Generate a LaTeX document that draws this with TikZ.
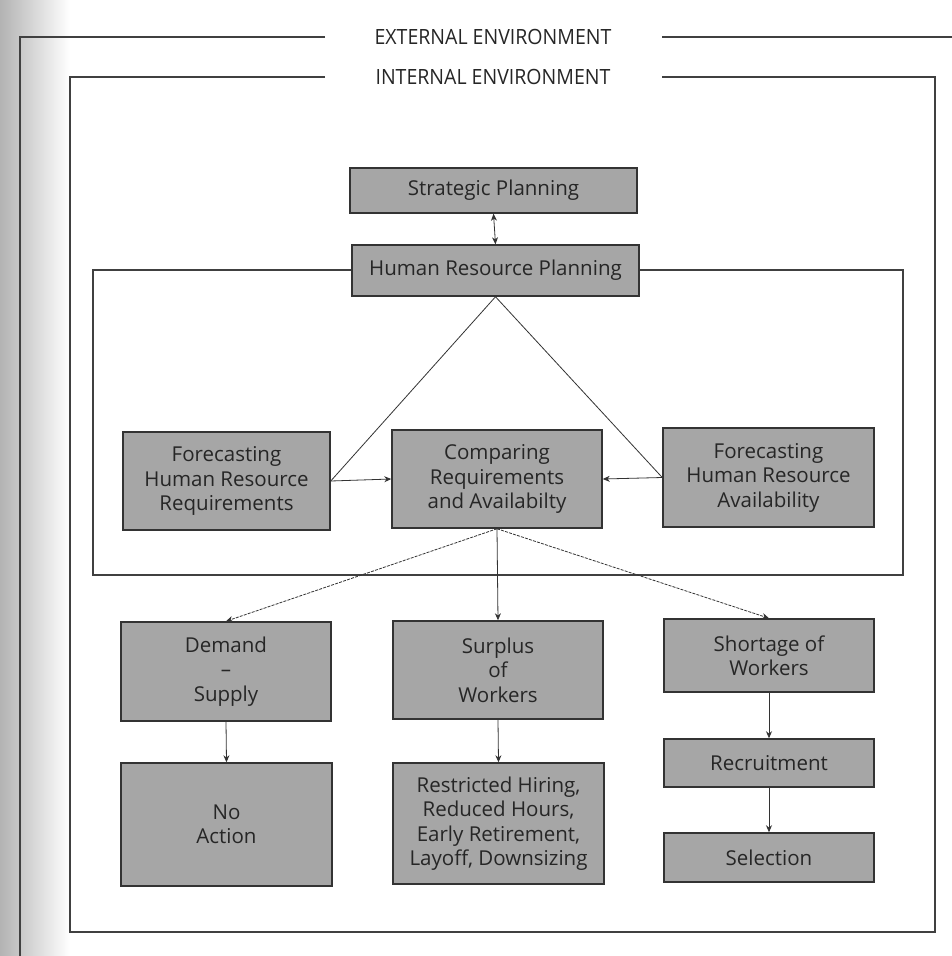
\documentclass[tikz,border=0pt]{standalone}
\usepackage{fontspec}
\setmainfont{Open Sans}
\newfontfamily\hdrfont[FakeStretch=0.93]{Open Sans}
\usetikzlibrary{arrows.meta}
\begin{document}
\begin{tikzpicture}[x=1pt,y=-1pt,
  box/.style={draw=black!80,line width=1.5pt,fill=black!35,align=center,inner sep=0pt,
     font=\fontsize{20.5}{24.5}\selectfont,text=black!85},
  frame/.style={line width=1.8pt,draw=black!75},
  conn/.style={line width=0.8pt,draw=black!80},
  arr/.style={conn,-{Stealth[length=7pt,width=6pt]}},
  darr/.style={conn,{Stealth[length=7pt,width=6pt]}-{Stealth[length=7pt,width=6pt]}},
  dasharr/.style={conn,dash pattern=on 3pt off 1.2pt,-{Stealth[length=7pt,width=6pt]}},
  hdr/.style={font=\hdrfont\fontsize{21}{24}\selectfont,text=black!85,inner sep=0pt}]
\useasboundingbox (0,0) rectangle (952,956);
\fill[white] (0,0) rectangle (952,956);
\shade[left color=black!30,right color=white] (0,0) rectangle (70,956);
% environments
\node[hdr] (ext) at (493,37) {EXTERNAL ENVIRONMENT};
\node[hdr] (int) at (493,77) {INTERNAL ENVIRONMENT};
\draw[frame] (325,37) -- (20,37) -- (20,956);
\draw[frame] (662,37) -- (952,37);
\draw[frame] (325,77) -- (70,77) -- (70,932) -- (935,932) -- (935,77) -- (662,77);
% HRP frame
\draw[frame] (93,270) rectangle (903,575);
% nodes
\node[box,minimum width=287,minimum height=45] (sp) at (493.5,190.5) {Strategic Planning};
\node[box,minimum width=287,minimum height=51] (hrp) at (495.5,270.5) {Human Resource Planning};
\node[box,minimum width=207,minimum height=98] (fhrr) at (226.5,481) {Forecasting\\Human Resource\\Requirements};
\node[box,minimum width=210,minimum height=98] (cmp) at (497,479) {Comparing\\Requirements\\and Availabilty};
\node[box,minimum width=211,minimum height=99] (fhra) at (768.5,477.5) {Forecasting\\Human Resource\\Availability};
\node[box,minimum width=210,minimum height=99] (dem) at (226,671.5) {Demand\\--\\Supply};
\node[box,minimum width=211,minimum height=123] (noa) at (226.5,824.5) {No\\Action};
\node[box,minimum width=210,minimum height=98] (sur) at (498,670) {Surplus\\of\\Workers};
\node[box,minimum width=211,minimum height=121] (res) at (498.5,823.5) {Restricted Hiring,\\Reduced Hours,\\Early Retirement,\\Layoff, Downsizing};
\node[box,minimum width=210,minimum height=73] (sho) at (769,655.5) {Shortage of\\Workers};
\node[box,minimum width=210,minimum height=48] (rec) at (769,763) {Recruitment};
\node[box,minimum width=210,minimum height=49] (sel) at (769,857.5) {Selection};
% connectors
\draw[darr] (sp.south) -- (hrp.north);
\draw[conn] (hrp.south) -- (fhrr.east);
\draw[conn] (hrp.south) -- (fhra.west);
\draw[arr] (fhrr.east) -- (cmp.west);
\draw[arr] (fhra.west) -- (cmp.east);
\draw[dasharr] (cmp.south) -- (dem.north);
\draw[arr] (cmp.south) -- (sur.north);
\draw[dasharr] (cmp.south) -- (sho.north);
\draw[arr] (dem.south) -- (noa.north);
\draw[arr] (sur.south) -- (res.north);
\draw[arr] (sho.south) -- (rec.north);
\draw[arr] (rec.south) -- (sel.north);
\end{tikzpicture}
\end{document}
